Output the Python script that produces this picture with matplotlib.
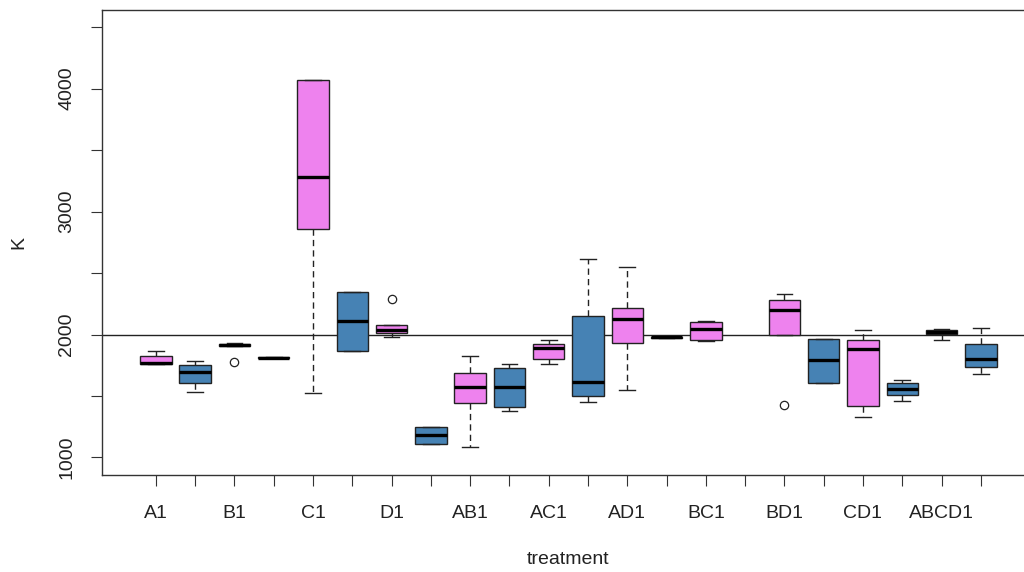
import matplotlib
matplotlib.use("Agg")
import matplotlib.pyplot as plt

plt.rcParams["font.family"] = ["Liberation Sans", "DejaVu Sans"]

INK = "#222222"
VIOLET = "#EE82EE"
STEEL = "#4682B4"

# 22 boxes, one pair per treatment; position 16 has no data
treatments = ["A1", "B1", "C1", "D1", "AB1", "AC1", "AD1", "BC1", "BD1", "CD1", "ABCD1"]
whislo = [1760, 1529, 1905, 1810, 1523, 1864, 1978, 1111, 1084, 1379, 1759,
          1450, 1547, 1968, 1949, None, 2000, 1605, 1328, 1463, 1954, 1677]
q1 = [1760, 1605, 1908, 1810, 2856, 1864, 2016, 1111, 1442, 1412, 1803,
      1504, 1935, 1972, 1957, None, 2000, 1605, 1420, 1512, 2005, 1740]
med = [1771, 1695, 1915, 1813, 3285, 2109, 2038, 1184, 1577, 1577, 1889,
       1618, 2127, 1978, 2049, None, 2203, 1792, 1884, 1561, 2024, 1803]
q3 = [1825, 1752, 1925, 1817, 4070, 2344, 2081, 1246, 1688, 1729, 1927,
      2150, 2220, 1984, 2101, None, 2285, 1965, 1954, 1605, 2038, 1924]
whishi = [1868, 1787, 1932, 1820, 4070, 2344, 2081, 1246, 1829, 1759, 1954,
          2612, 2553, 1988, 2109, None, 2333, 1965, 2035, 1634, 2046, 2057]
outliers = {3: [1776], 7: [2293], 17: [1431]}
ref_level = 2000

stats, positions, colors = [], [], []
for i in range(len(med)):
    if med[i] is None:
        continue
    pos = i + 1
    stats.append(dict(whislo=whislo[i], q1=q1[i], med=med[i], q3=q3[i],
                      whishi=whishi[i], fliers=outliers.get(pos, [])))
    positions.append(pos)
    colors.append(VIOLET if pos % 2 == 1 else STEEL)

fig = plt.figure(figsize=(10.24, 5.72), dpi=100)
ax = fig.add_axes([101.7 / 1024, 97.3 / 572, (1035 - 101.7) / 1024, 464.7 / 572])

bp = ax.bxp(stats, positions=positions, widths=0.8, capwidths=0.4,
            patch_artist=True, manage_ticks=False,
            boxprops=dict(edgecolor=INK, linewidth=1.0),
            medianprops=dict(color="black", linewidth=2.4),
            whiskerprops=dict(color=INK, linewidth=1.0, linestyle=(0, (4.5, 3))),
            capprops=dict(color=INK, linewidth=1.0),
            flierprops=dict(marker="o", markerfacecolor="none",
                            markeredgecolor=INK, markersize=6, markeredgewidth=0.9))
for patch, c in zip(bp["boxes"], colors):
    patch.set_facecolor(c)

ax.axhline(ref_level, color=INK, linewidth=1.0, zorder=0.5)

ax.set_xlim(-0.38, 23.38)
ax.set_ylim(860, 4640)

ax.set_xticks(range(1, 23))
ax.set_xticklabels([treatments[(p - 1) // 2] if p % 2 == 1 else "" for p in range(1, 23)])
yt = list(range(1000, 4501, 500))
ax.set_yticks(yt)
ax.set_yticklabels([str(v) if v % 1000 == 0 else "" for v in yt],
                   rotation=90, va="center")

for s in ax.spines.values():
    s.set_color("#333333")
    s.set_linewidth(1.0)
ax.tick_params(axis="both", length=8, width=0.8, color="#333333",
               labelsize=14, labelcolor=INK)
ax.tick_params(axis="x", pad=14)
ax.tick_params(axis="y", pad=11)

fig.text(19 / 1024, 1 - 242 / 572, "K", rotation=90, ha="center", va="center",
         fontsize=14, color=INK)
fig.text(568 / 1024, 1 - 560 / 572, "treatment", ha="center", va="center",
         fontsize=14, color=INK)

fig.savefig("out.png", dpi=100, facecolor="white")
